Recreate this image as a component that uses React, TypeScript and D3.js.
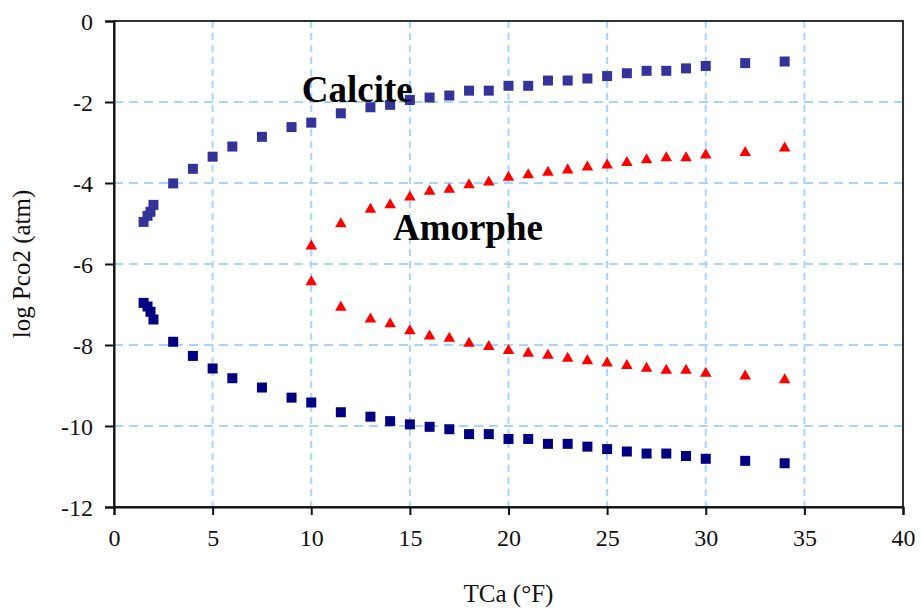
import React, { useEffect, useRef } from 'react'
import * as d3 from 'd3'

// TCa (°F)
const calciteX = [1.5, 1.7, 1.85, 2, 3, 4, 5, 6, 7.5, 9, 10, 11.5, 13, 14, 15, 16, 17, 18, 19, 20, 21, 22, 23, 24, 25, 26, 27, 28, 29, 30, 32, 34]
const calciteHaut = [-4.96, -4.81, -4.71, -4.54, -4.01, -3.65, -3.35, -3.1, -2.86, -2.62, -2.51, -2.28, -2.13, -2.07, -1.95, -1.89, -1.84, -1.72, -1.72, -1.6, -1.6, -1.47, -1.47, -1.42, -1.36, -1.29, -1.23, -1.23, -1.17, -1.11, -1.04, -1.0]
const calciteBas = [-6.96, -7.05, -7.18, -7.37, -7.92, -8.27, -8.58, -8.82, -9.05, -9.3, -9.42, -9.66, -9.77, -9.88, -9.96, -10.02, -10.08, -10.2, -10.2, -10.32, -10.32, -10.44, -10.44, -10.51, -10.57, -10.63, -10.68, -10.68, -10.74, -10.81, -10.86, -10.92]

const amorpheX = [10, 11.5, 13, 14, 15, 16, 17, 18, 19, 20, 21, 22, 23, 24, 25, 26, 27, 28, 29, 30, 32, 34]
const amorpheHaut = [-5.56, -5.01, -4.65, -4.54, -4.35, -4.21, -4.16, -4.05, -3.98, -3.86, -3.8, -3.74, -3.68, -3.61, -3.56, -3.5, -3.43, -3.38, -3.38, -3.31, -3.25, -3.14]
const amorpheBas = [-6.44, -7.07, -7.36, -7.48, -7.65, -7.78, -7.84, -7.96, -8.04, -8.14, -8.21, -8.26, -8.33, -8.39, -8.45, -8.51, -8.58, -8.63, -8.63, -8.7, -8.77, -8.86]

const xTicks = [0, 5, 10, 15, 20, 25, 30, 35, 40]
const yTicks = [0, -2, -4, -6, -8, -10, -12]

// étiquettes des courbes (position en unités du graphe)
const labels = [
  { text: 'Calcite', x: 9.52, y: -1.99 },
  { text: 'Amorphe', x: 14.14, y: -5.41 }
]

const App = () => {
  const ref = useRef<SVGSVGElement>(null)

  useEffect(() => {
    const svg = d3.select(ref.current)
    svg.selectAll('*').remove()

    const left = 114
    const right = 903
    const top = 21
    const bottom = 507

    const x = d3.scaleLinear().domain([0, 40]).range([left, right])
    const y = d3.scaleLinear().domain([-12, 0]).range([bottom, top])

    svg.append('rect').attr('width', 921).attr('height', 610).attr('fill', '#fff')

    // grille
    const grid = svg.append('g')
    grid
      .selectAll('.gx')
      .data(xTicks.slice(1, -1))
      .enter()
      .append('line')
      .attr('x1', (d) => x(d))
      .attr('x2', (d) => x(d))
      .attr('y1', top)
      .attr('y2', bottom)
      .attr('stroke', '#a8d4ff')
      .attr('stroke-width', 2)
      .attr('stroke-dasharray', '7,5')
    grid
      .selectAll('.gy')
      .data(yTicks.slice(1, -1))
      .enter()
      .append('line')
      .attr('x1', left)
      .attr('x2', right)
      .attr('y1', (d) => y(d))
      .attr('y2', (d) => y(d))
      .attr('stroke', '#a8d4ff')
      .attr('stroke-width', 2)
      .attr('stroke-dasharray', '9,6')

    // cadre
    svg
      .append('rect')
      .attr('x', left)
      .attr('y', top)
      .attr('width', right - left)
      .attr('height', bottom - top)
      .attr('fill', 'none')
      .attr('stroke', '#333')
      .attr('stroke-width', 2)

    // axes (tirets simples comme dans l'original)
    const fmt = (d: any) => String(d)
    const xAxis = svg
      .append('g')
      .attr('transform', `translate(0,${bottom})`)
      .call(d3.axisBottom(x).tickValues(xTicks).tickSize(8).tickPadding(14).tickFormat(fmt))
    const yAxis = svg
      .append('g')
      .attr('transform', `translate(${left},0)`)
      .call(d3.axisLeft(y).tickValues(yTicks).tickSize(9).tickPadding(12).tickFormat(fmt))
    ;[xAxis, yAxis].forEach((a) => {
      a.select('.domain').attr('stroke', '#111').attr('stroke-width', 2)
      a.selectAll('.tick line').attr('stroke', '#111').attr('stroke-width', 2)
      a.selectAll('text')
        .attr('fill', '#111')
        .style('font-family', '"Liberation Serif", "Times New Roman", serif')
        .style('font-size', '24px')
    })
    yAxis.selectAll('text').attr('dy', '0.35em')
    xAxis.selectAll('text').attr('dy', '0.71em')

    // titres des axes
    svg
      .append('text')
      .text('TCa (°F)')
      .attr('x', (left + right) / 2)
      .attr('y', 602)
      .attr('text-anchor', 'middle')
      .attr('fill', '#111')
      .style('font-family', '"Liberation Serif", "Times New Roman", serif')
      .style('font-size', '25px')
    svg
      .append('text')
      .text('log Pco2 (atm)')
      .attr('transform', `translate(30,${(top + bottom) / 2}) rotate(-90)`)
      .attr('text-anchor', 'middle')
      .attr('fill', '#111')
      .style('font-family', '"Liberation Serif", "Times New Roman", serif')
      .style('font-size', '25px')

    // séries
    const squares = (xs: number[], ys: number[], color: string) => {
      svg
        .append('g')
        .selectAll('rect')
        .data(xs.map((v, i) => [v, ys[i]]))
        .enter()
        .append('rect')
        .attr('x', (d) => x(d[0]) - 5)
        .attr('y', (d) => y(d[1]) - 5)
        .attr('width', 10)
        .attr('height', 10)
        .attr('fill', color)
    }
    const triangles = (xs: number[], ys: number[], color: string) => {
      svg
        .append('g')
        .selectAll('path')
        .data(xs.map((v, i) => [v, ys[i]]))
        .enter()
        .append('path')
        .attr('d', d3.symbol().type(d3.symbolTriangle).size(58)())
        .attr('transform', (d) => `translate(${x(d[0])},${y(d[1])})`)
        .attr('fill', color)
    }
    squares(calciteX, calciteHaut, '#333399')
    squares(calciteX, calciteBas, '#000080')
    triangles(amorpheX, amorpheHaut, '#ff0000')
    triangles(amorpheX, amorpheBas, '#ff0000')

    svg
      .selectAll('.lbl')
      .data(labels)
      .enter()
      .append('text')
      .text((d) => d.text)
      .attr('x', (d) => x(d.x))
      .attr('y', (d) => y(d.y))
      .attr('fill', '#000')
      .style('font-family', '"Liberation Serif", "Times New Roman", serif')
      .style('font-weight', 'bold')
      .style('font-size', '37px')
  }, [])

  return (
    <svg
      ref={ref}
      width={921}
      height={610}
      style={{ position: 'absolute', left: 0, top: 0, display: 'block' }}
    />
  )
}

export default App
